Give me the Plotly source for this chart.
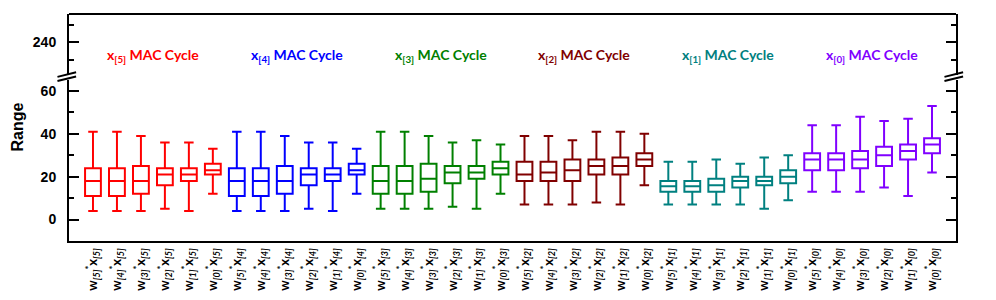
import plotly.graph_objects as go

# ---------------- data ----------------
groups = ["x[5]", "x[4]", "x[3]", "x[2]", "x[1]", "x[0]"]
group_idx = ["5", "4", "3", "2", "1", "0"]
group_colors = ["#FF0000", "#0000FF", "#008000", "#800000", "#008080", "#8000FF"]

upper = [
    [41, 41, 39, 36, 36, 33],
    [41, 41, 39, 36, 36, 33],
    [41, 41, 39, 36, 37, 35],
    [39, 39, 37, 41, 41, 40],
    [27, 27, 28, 26, 29, 30],
    [44, 44, 48, 46, 47, 53],
]
q3 = [
    [24, 24, 25, 24, 24, 26],
    [24, 24, 25, 24, 24, 26],
    [25, 25, 26, 25, 25, 27],
    [27, 27, 28, 28, 29, 31],
    [18, 18, 19, 20, 20, 23],
    [31, 31, 32, 34, 35, 38],
]
median = [
    [18, 18, 18, 21, 21, 23],
    [18, 18, 18, 21, 21, 23],
    [18, 18, 19, 22, 22, 24],
    [21, 22, 23, 25, 25, 28],
    [15.5, 15.5, 16, 18, 18, 20],
    [28, 28, 28, 30, 32, 35],
]
q1 = [
    [11, 11, 12, 16, 18, 21],
    [11, 11, 12, 16, 18, 21],
    [12, 12, 13, 17, 19, 21],
    [18, 18, 18, 21, 21, 25],
    [13, 13, 13, 15, 16, 17],
    [23, 23, 24, 25, 28, 31],
]
lower = [
    [4, 4, 4, 5, 4, 12],
    [4, 4, 4, 5, 4, 12],
    [5, 5, 5, 6, 5, 12],
    [7, 7, 7, 8, 7, 16],
    [7, 7, 7, 7, 5, 9],
    [13, 13, 13, 15, 11, 22],
]
w_idx = ["5", "4", "3", "2", "1", "0"]

# tick labels
tick_text = []
for g in group_idx:
    for w in w_idx:
        tick_text.append(f"w<sub><i>[{w}]</i></sub><sup>*</sup>x<sub><i>[{g}]</i></sub>")

fig = go.Figure()
for gi in range(6):
    xs = [gi * 6 + k for k in range(6)]
    fig.add_trace(go.Box(
        x=xs, q1=q1[gi], median=median[gi], q3=q3[gi],
        lowerfence=lower[gi], upperfence=upper[gi],
        width=0.66, whiskerwidth=0.6,
        line=dict(color=group_colors[gi], width=2),
        fillcolor="rgba(0,0,0,0)",
        boxpoints=False, showlegend=False, hoverinfo="skip",
        xaxis="x", yaxis="y",
    ))

# dummy trace for the upper panel
fig.add_trace(go.Scatter(x=[0], y=[240], mode="markers", marker=dict(opacity=0),
                         xaxis="x", yaxis="y2", showlegend=False, hoverinfo="skip"))

# group labels
for gi in range(6):
    fig.add_annotation(
        x=gi * 6 + 2.5, y=232.5, xref="x", yref="y2",
        text=f"x<sub>[{group_idx[gi]}]</sub> MAC Cycle",
        showarrow=False,
        font=dict(family="Lato", size=14, color=group_colors[gi], weight="bold"),
    )

# y title (centred on whole plot height)
fig.add_annotation(
    x=0, xref="paper", xshift=-52, y=0.5, yref="paper",
    xanchor="center", yanchor="middle",
    text="Range", textangle=-90, showarrow=False,
    font=dict(family="Liberation Sans", size=16, color="black", weight="bold"),
)

axis_font = dict(family="Liberation Sans", size=14, color="black", weight="bold")

# the page body adds an 8px offset, so the figure is 8px smaller
fig.update_layout(
    width=988, height=292,
    margin=dict(l=61, r=40, t=6, b=59, autoexpand=False),
    plot_bgcolor="white", paper_bgcolor="white",
    xaxis=dict(
        domain=[0, 1], anchor="y", range=[-1, 36], automargin=False,
        tickmode="array", tickvals=list(range(36)), ticktext=tick_text,
        tickangle=-90, ticks="", showgrid=False, zeroline=False,
        showline=True, linecolor="black", linewidth=2,
        tickfont=dict(family="Lato", size=13, color="black", weight="bold"),
    ),
    yaxis=dict(
        domain=[0, 0.71], anchor="x", range=[-10, 65.2], automargin=False,
        tickmode="array", tickvals=[0, 20, 40, 60],
        ticks="inside", ticklen=10, tickwidth=2, tickcolor="black",
        ticklabelstandoff=8,
        minor=dict(tickmode="array", tickvals=[-10, 10, 30, 50], ticks="inside",
                   ticklen=5, tickwidth=2, tickcolor="black"),
        showline=True, mirror="ticks", linecolor="black", linewidth=2,
        showgrid=False, zeroline=False, tickfont=axis_font,
    ),
    yaxis2=dict(
        domain=[0.73, 1], anchor="x", range=[221, 256], automargin=False,
        tickmode="array", tickvals=[240],
        ticks="inside", ticklen=10, tickwidth=2, tickcolor="black",
        ticklabelstandoff=8,
        minor=dict(tickmode="array", tickvals=[230, 250], ticks="inside",
                   ticklen=5, tickwidth=2, tickcolor="black"),
        showline=True, mirror="ticks", linecolor="black", linewidth=2,
        showgrid=False, zeroline=False, tickfont=axis_font,
    ),
)

# top border
fig.add_shape(type="line", xref="paper", yref="paper", x0=0, x1=1, y0=1, y1=1,
              line=dict(color="black", width=2))
# axis break marks
for xp in [0, 1]:
    fig.add_shape(type="line", xref="paper", yref="paper",
                  x0=xp - 0.013, x1=xp + 0.008, y0=0.705, y1=0.725,
                  line=dict(color="black", width=2))
    fig.add_shape(type="line", xref="paper", yref="paper",
                  x0=xp - 0.013, x1=xp + 0.008, y0=0.723, y1=0.743,
                  line=dict(color="black", width=2))

fig.write_html("out.html")
